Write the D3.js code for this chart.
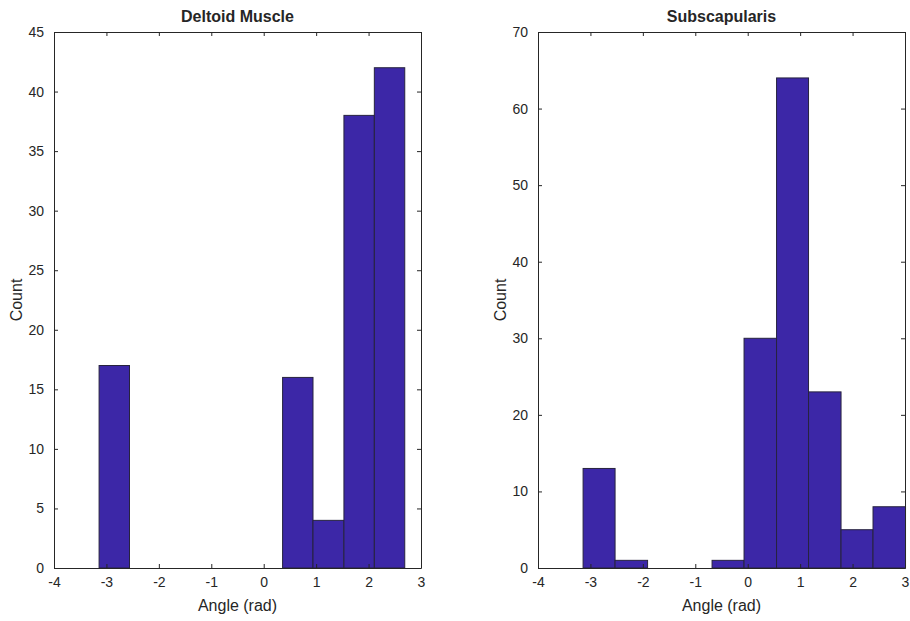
<!DOCTYPE html>
<html>
<head>
<meta charset="utf-8">
<script src="https://cdn.jsdelivr.net/npm/d3@7"></script>
<style>
  body { margin: 0; background: #fff; }
  text { font-family: "Liberation Sans", Arial, sans-serif; fill: #262626; }
</style>
</head>
<body>
<div id="chart"></div>
<script>
var width = 910,
    height = 621

// histogram data
var deltoidEdges = [-3.14, -2.56, -1.97, -1.39, -0.81, -0.22, 0.36, 0.94, 1.53, 2.11, 2.69]
var deltoidCounts = [17, 0, 0, 0, 0, 0, 16, 4, 38, 42]
var subscapEdges = [-3.14, -2.53, -1.91, -1.30, -0.68, -0.07, 0.55, 1.16, 1.78, 2.39, 3.01]
var subscapCounts = [13, 1, 0, 0, 1, 30, 64, 23, 5, 8]
var xTicks = [-4, -3, -2, -1, 0, 1, 2, 3]
var deltoidYTicks = [0, 5, 10, 15, 20, 25, 30, 35, 40, 45]
var subscapYTicks = [0, 10, 20, 30, 40, 50, 60, 70]

var svg = d3.select("#chart")
  .append("svg")
    .attr("width", width)
    .attr("height", height)

//plain labels with a hyphen minus, as in the picture
var fmt = function(d) { return String(d) }

//draws one histogram panel
function panel(left, title, edges, counts, yTicks) {
  var w = 367, h = 536, top = 32
  var g = svg.append("g").attr("transform", "translate(" + left + "," + top + ")")

  var x = d3.scaleLinear().domain([-4, 3]).range([0, w])
  var y = d3.scaleLinear().domain([0, d3.max(yTicks)]).range([h, 0])

  var bins = counts.map(function(c, i) { return {x0: edges[i], x1: edges[i + 1], n: c} })

  g.selectAll("rect.bar")
    .data(bins)
    .enter()
    .append("rect")
      .attr("class", "bar")
      .attr("x", function(d) { return x(d.x0) })
      .attr("width", function(d) { return x(d.x1) - x(d.x0) })
      .attr("y", function(d) { return y(d.n) })
      .attr("height", function(d) { return h - y(d.n) })
      .attr("fill", "#3c27a7")
      .attr("stroke", "#27233f")
      .attr("stroke-width", 1)

  // axes with inward ticks
  var axB = d3.axisBottom(x).tickValues(xTicks).tickFormat(fmt).tickSizeInner(-4).tickSizeOuter(0).tickPadding(9)
  var axT = d3.axisTop(x).tickValues(xTicks).tickSizeInner(-4).tickSizeOuter(0).tickFormat("")
  var axL = d3.axisLeft(y).tickValues(yTicks).tickFormat(fmt).tickSizeInner(-4).tickSizeOuter(0).tickPadding(10)
  var axR = d3.axisRight(y).tickValues(yTicks).tickSizeInner(-4).tickSizeOuter(0).tickFormat("")

  var a1 = g.append("g").attr("transform", "translate(0," + h + ")").call(axB)
  var a2 = g.append("g").call(axT)
  var a3 = g.append("g").call(axL)
  var a4 = g.append("g").attr("transform", "translate(" + w + ",0)").call(axR);
  [a1, a2, a3, a4].forEach(function(a) {
    a.selectAll("path, line").attr("stroke", "#262626")
    a.selectAll("text").style("font-size", "14px").attr("fill", "#333").style("font-family", null)
  })

  g.append("text")
    .attr("x", w / 2).attr("y", -10)
    .attr("text-anchor", "middle")
    .style("font-size", "16px").style("font-weight", "bold")
    .attr("fill", "#000")
    .text(title)

  g.append("text")
    .attr("x", w / 2).attr("y", h + 43)
    .attr("text-anchor", "middle")
    .style("font-size", "16px")
    .text("Angle (rad)")

  g.append("text")
    .attr("transform", "translate(-32," + (h / 2) + ") rotate(-90)")
    .attr("text-anchor", "middle")
    .style("font-size", "16px")
    .text("Count")
}

panel(54, "Deltoid Muscle", deltoidEdges, deltoidCounts, deltoidYTicks)
panel(538, "Subscapularis", subscapEdges, subscapCounts, subscapYTicks)
</script>
</body>
</html>
